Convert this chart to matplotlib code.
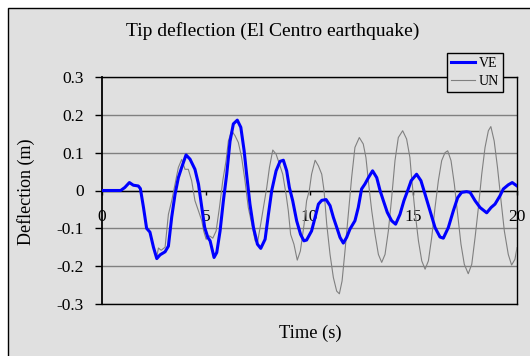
import matplotlib
matplotlib.use("Agg")
import matplotlib.pyplot as plt
from matplotlib.patches import Rectangle

plt.rcParams['font.family'] = ['Liberation Serif', 'DejaVu Serif']

title = "Tip deflection (El Centro earthquake)"
x_label = "Time (s)"
y_label = "Deflection (m)"
x_ticks = [0, 5, 10, 15, 20]
y_ticks = [-0.3, -0.2, -0.1, 0, 0.1, 0.2, 0.3]
y_tick_labels = ["-0.3", "-0.2", "-0.1", "0", "0.1", "0.2", "0.3"]

ve_time = [0, 0.9, 1.1, 1.32, 1.51, 1.75, 1.85, 2.0, 2.15, 2.31,
           2.48, 2.64, 2.8, 3.04, 3.2, 3.36, 3.52, 3.68, 3.84, 4.05,
           4.24, 4.48, 4.65, 4.81, 4.95, 5.1, 5.21, 5.4, 5.53, 5.69,
           5.85, 6.01, 6.17, 6.33, 6.52, 6.69, 6.85, 6.97, 7.13, 7.3,
           7.49, 7.65, 7.86, 8.02, 8.18, 8.39, 8.58, 8.74, 8.9, 9.03,
           9.19, 9.38, 9.57, 9.73, 9.86, 10.1, 10.27, 10.43, 10.59, 10.8,
           10.99, 11.15, 11.34, 11.47, 11.63, 11.79, 11.95, 12.19, 12.35, 12.51,
           12.67, 12.84, 13.04, 13.24, 13.4, 13.56, 13.75, 13.96, 14.15, 14.36,
           14.55, 14.76, 14.9, 15.16, 15.37, 15.57, 15.81, 16.05, 16.29, 16.45,
           16.69, 16.93, 17.14, 17.33, 17.57, 17.74, 17.98, 18.22, 18.54, 18.75,
           18.94, 19.18, 19.34, 19.58, 19.77, 20.0]
ve_defl = [0, 0, 0.008, 0.021, 0.014, 0.012, 0.005, -0.045, -0.10, -0.11,
           -0.15, -0.18, -0.17, -0.162, -0.147, -0.07, -0.01, 0.034, 0.061, 0.094,
           0.083, 0.056, 0.017, -0.045, -0.098, -0.124, -0.133, -0.177, -0.164, -0.107,
           -0.027, 0.043, 0.13, 0.176, 0.186, 0.167, 0.105, 0.043, -0.036, -0.098,
           -0.142, -0.153, -0.129, -0.063, 0, 0.052, 0.077, 0.08, 0.052, 0.008,
           -0.027, -0.08, -0.116, -0.133, -0.131, -0.107, -0.071, -0.036, -0.026, -0.024,
           -0.04, -0.071, -0.102, -0.124, -0.139, -0.124, -0.102, -0.08, -0.045, 0.004,
           0.017, 0.034, 0.052, 0.034, 0, -0.027, -0.058, -0.08, -0.089, -0.063,
           -0.027, 0.004, 0.026, 0.043, 0.026, -0.01, -0.054, -0.098, -0.123, -0.126,
           -0.098, -0.054, -0.019, -0.005, -0.003, -0.005, -0.027, -0.045, -0.059, -0.045,
           -0.036, -0.014, 0.004, 0.015, 0.021, 0.012]

un_time = [0, 0.9, 1.1, 1.32, 1.51, 1.75, 1.85, 2.0, 2.15, 2.31,
           2.48, 2.64, 2.72, 2.85, 3.04, 3.2, 3.36, 3.52, 3.68, 3.84,
           4.0, 4.16, 4.32, 4.48, 4.65, 4.81, 4.9, 5.02, 5.18, 5.34,
           5.5, 5.66, 5.82, 5.98, 6.09, 6.25, 6.41, 6.57, 6.73, 6.89,
           7.05, 7.22, 7.38, 7.49, 7.62, 7.78, 7.94, 8.07, 8.23, 8.39,
           8.55, 8.71, 8.87, 8.98, 9.09, 9.25, 9.41, 9.56, 9.74, 9.86,
           9.99, 10.1, 10.27, 10.43, 10.59, 10.7, 10.83, 10.99, 11.15, 11.31,
           11.44, 11.57, 11.71, 11.87, 12.03, 12.19, 12.4, 12.59, 12.72, 12.87,
           13.0, 13.16, 13.32, 13.48, 13.64, 13.8, 13.96, 14.12, 14.28, 14.49,
           14.68, 14.84, 14.92, 15.08, 15.25, 15.41, 15.57, 15.73, 15.89, 16.05,
           16.21, 16.37, 16.53, 16.66, 16.82, 16.98, 17.14, 17.3, 17.46, 17.65,
           17.82, 17.98, 18.14, 18.3, 18.46, 18.62, 18.74, 18.9, 19.06, 19.23,
           19.39, 19.58, 19.74, 19.9, 20.0]
un_defl = [0, 0, 0.008, 0.02, 0.013, 0.012, 0.005, -0.045, -0.10, -0.11,
           -0.15, -0.175, -0.152, -0.158, -0.15, -0.063, -0.027, 0.017, 0.061, 0.082,
           0.056, 0.056, 0.026, -0.027, -0.054, -0.08, -0.107, -0.129, -0.12, -0.126,
           -0.107, -0.045, 0.026, 0.079, 0.131, 0.158, 0.145, 0.127, 0.087, 0.026,
           -0.045, -0.089, -0.133, -0.138, -0.098, -0.045, 0.008, 0.061, 0.107, 0.096,
           0.07, 0.043, -0.01, -0.054, -0.116, -0.142, -0.184, -0.16, -0.089, -0.027,
           0.0, 0.043, 0.08, 0.065, 0.043, 0.0, -0.089, -0.169, -0.23, -0.266,
           -0.273, -0.239, -0.16, -0.063, 0.034, 0.114, 0.14, 0.123, 0.087, 0.008,
           -0.054, -0.116, -0.169, -0.19, -0.169, -0.107, -0.019, 0.079, 0.14, 0.158,
           0.136, 0.087, 0.034, -0.054, -0.133, -0.186, -0.208, -0.186, -0.124, -0.045,
           0.026, 0.079, 0.1, 0.105, 0.079, 0.017, -0.063, -0.142, -0.195, -0.22,
           -0.195, -0.124, -0.045, 0.043, 0.114, 0.158, 0.169, 0.131, 0.061, -0.027,
           -0.107, -0.169, -0.197, -0.182, -0.151]

W, H = 530, 356
BG = '#e0e0e0'
fig = plt.figure(figsize=(W / 100, H / 100), dpi=100, facecolor='white')
frame = Rectangle((8 / W, -0.1), 1.2, 1 - 8 / H + 0.1,
                  transform=fig.transFigure, facecolor=BG,
                  edgecolor='black', linewidth=1.0, zorder=-10)
fig.add_artist(frame)

left, right, top, bottom = 102, 517, 77, 304
ax = fig.add_axes([left / W, 1 - bottom / H, (right - left) / W, (bottom - top) / H])
ax.set_zorder(1)
ax.set_facecolor(BG)

ax.set_xlim(0, 20)
ax.set_ylim(-0.3, 0.3)
ax.set_yticks(y_ticks)
ax.set_yticklabels(y_tick_labels)
ax.set_xticks(x_ticks)
ax.set_xticklabels([str(t) for t in x_ticks])

ax.yaxis.grid(True, color='#808080', linewidth=1.0)
ax.set_axisbelow(True)

ax.spines['bottom'].set_position(('data', 0))
for s in ['top', 'right', 'left', 'bottom']:
    ax.spines[s].set_color('black')
    ax.spines[s].set_linewidth(1.0)
ax.spines['left'].set_linewidth(1.3)
ax.axhline(-0.3, color='black', linewidth=1.0, clip_on=False, zorder=3)

ax.tick_params(axis='y', direction='out', length=5, width=1, labelsize=12.5, pad=8)
ax.tick_params(axis='x', direction='out', length=3, width=1, labelsize=12.5, pad=10)

ax.plot(ve_time, ve_defl, color='#0000ff', linewidth=2.2, label='VE',
        solid_joinstyle='round', zorder=4)
ax.plot(un_time, un_defl, color='#808080', linewidth=0.8, label='UN', zorder=3)

leg = ax.legend(loc='upper left',
                bbox_to_anchor=((447 - left) / (right - left), (bottom - 53) / (bottom - top)),
                borderaxespad=0, fancybox=False, framealpha=1, facecolor=BG,
                edgecolor='black', fontsize=10, handlelength=1.75, handletextpad=0.25,
                borderpad=0.3, labelspacing=0.35)
leg.get_frame().set_linewidth(1.0)
leg.set_zorder(10)

fig.text(273 / W, 1 - 31 / H, title, ha='center', va='center', fontsize=14)
fig.text(310 / W, 1 - 333 / H, x_label, ha='center', va='center', fontsize=13.3)
fig.text(26 / W, 1 - 192 / H, y_label, ha='center', va='center', rotation=90, fontsize=13)

fig.savefig('out.png', dpi=100, facecolor='white')
